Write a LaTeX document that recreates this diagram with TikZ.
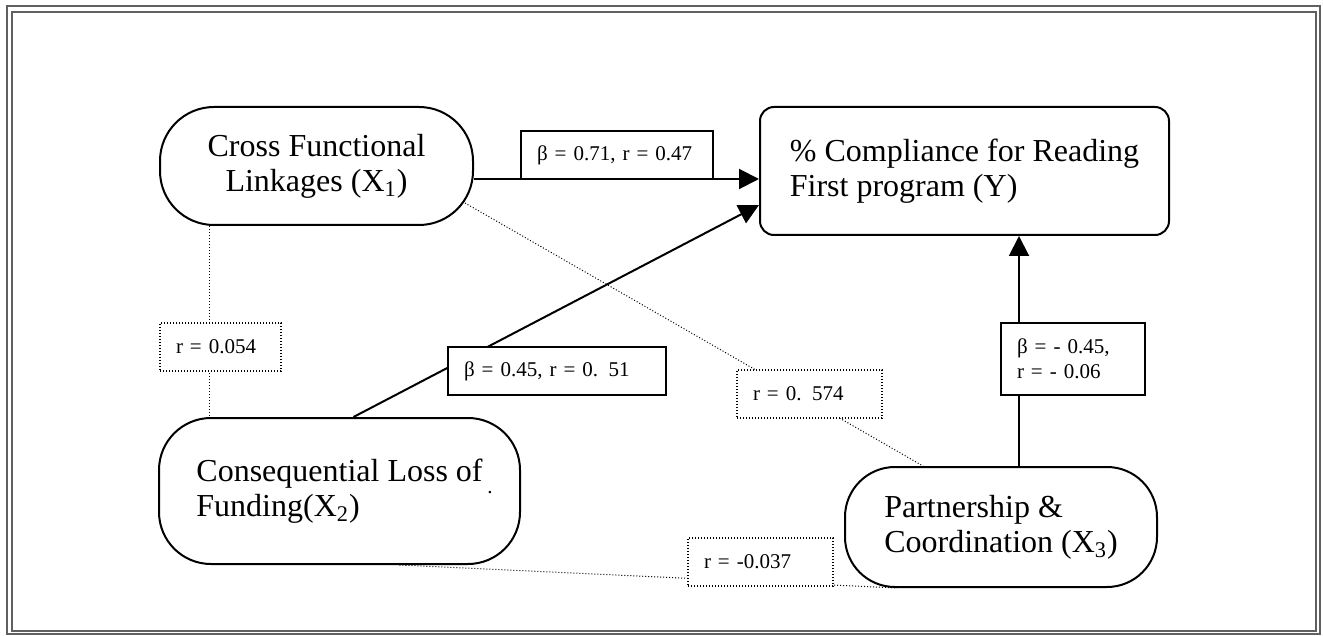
\documentclass[tikz,border=0pt]{standalone}
\usepackage{fontspec}
\setmainfont{Liberation Serif}
\usepackage{xcolor}
\usepackage{tikz}
\usetikzlibrary{positioning,arrows.meta,calc}
\definecolor{FrameGray}{RGB}{96,96,96}

\begin{document}
\begin{tikzpicture}[
  x=0.5pt, y=-0.5pt,
  var/.style={draw,line width=1pt,align=left,inner sep=0pt,font=\fontsize{16}{17.5}\selectfont},
  lbl/.style={draw,line width=1pt,fill=white,align=left,inner xsep=8pt,inner ysep=0pt,minimum height=24pt,font=\fontsize{10.5}{12.5}\selectfont},
  corr/.style={lbl,line width=0.6pt,dash pattern=on 0.6pt off 0.9pt},
  ar/.style={-{Triangle[length=10pt,width=10pt]},line width=1pt},
  cor/.style={line width=0.5pt,dash pattern=on 0.5pt off 1pt}
]
\useasboundingbox (0,0) rectangle (1323,636);
% frame
\draw[FrameGray,line width=1.2pt] (7,6) rectangle (1320,634);
\draw[FrameGray,line width=1pt] (12,12) rectangle (1316,631);

% variables
\node[var,align=center,minimum width=156.5pt,minimum height=59pt,rounded corners=27pt] (x1) at (316.5,166) {Cross Functional\\Linkages (X\textsubscript{1})};
\node[var,minimum width=204.5pt,minimum height=64pt,rounded corners=7pt] (y) at (964.5,171) {\% Compliance for Reading\\First program (Y)};
\node[var,minimum width=180.5pt,minimum height=73pt,rounded corners=26pt] (x2) at (339.5,491) {Consequential Loss of\\Funding(X\textsubscript{2})};
\node[inner sep=0pt,font=\fontsize{10.5}{12}\selectfont] (dot) at (490,493) {.};
\node[var,minimum width=156pt,minimum height=60pt,rounded corners=25pt] (x3) at (1001,527) {Partnership \&\\Coordination (X\textsubscript{3})};

% paths
\draw[ar] ($(x1.east)+(0,13)$) -- ($(y.west)+(0,8)$);
\draw[ar] ($(x2.north)+(14,0)$) -- ($(y.west)+(0,34)$);
\draw[ar] ($(x3.north)+(18,0)$) -- ($(y.south)+(54.5,0)$);
\draw[cor] ($(x1.south)+(-107.5,0)$) -- ($(x2.north)+(-130.5,0)$);
\draw[cor] ($(x1.east)+(-9,37)$) -- ($(x3.north)+(-78,0)$);
\draw[cor] ($(x2.south)+(60,0)$) -- ($(x3.south)+(-104,0)$);

% coefficients
\node[lbl,text width=80pt] (b1) at (617,155.5) {β = 0.71, r = 0.47};
\node[lbl,text width=93pt] (b2) at (557,371) {β = 0.45, r = 0. 51};
\node[lbl,text width=56pt,minimum height=36pt] (b3) at (1073,359) {β = - 0.45,\\r = - 0.06};
\node[corr,text width=44.5pt] (r1) at (220.5,347) {r = 0.054};
\node[corr,text width=56.5pt] (r2) at (809.5,394) {r = 0. 574};
\node[corr,text width=56.5pt] (r3) at (760.5,562) {r = -0.037};
\end{tikzpicture}
\end{document}
